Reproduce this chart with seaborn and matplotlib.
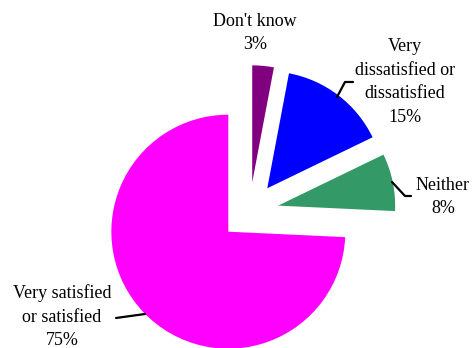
import matplotlib
matplotlib.use("Agg")
import matplotlib.pyplot as plt
import seaborn as sns
from matplotlib.lines import Line2D

categories = ["Don't know", "Very\ndissatisfied or\ndissatisfied", "Neither", "Very satisfied\nor satisfied"]
values = [3, 15, 8, 75]
colors = ["#800080", "#0000FF", "#339966", "#FF00FF"]

sns.set_theme(style="white")
plt.rcParams['font.family'] = ['Liberation Serif', 'DejaVu Serif']

W, H = 472, 348
fig = plt.figure(figsize=(W / 100, H / 100), dpi=100)
ax = fig.add_axes([0, 0, 1, 1])

R = 117.0
cx, cy = 249.5, 211.5
ax.pie(values, colors=sns.color_palette(colors), startangle=90, counterclock=False,
       explode=[0.25] * len(values), radius=1.0,
       wedgeprops=dict(linewidth=0))
ax.set_xlim(-cx / R, (W - cx) / R)
ax.set_ylim(-(H - cy) / R, cy / R)
ax.set_aspect('auto')
ax.axis('off')

def ff(x, y):
    return x / W, 1 - y / H

label_pos = [(255, 33), (405, 82), (443, 197), (62, 317)]
for cat, v, (lx, ly) in zip(categories, values, label_pos):
    fx, fy = ff(lx, ly)
    fig.text(fx, fy, f"{cat}\n{v}%", ha='center', va='center', fontsize=13,
             linespacing=1.5, color='black')

leaders = [
    [(337, 97), (345, 82), (353, 82)],
    [(392, 182), (405, 196), (411, 196)],
    [(116, 318), (145, 314)],
]
for pts in leaders:
    xs = [ff(x, y)[0] for x, y in pts]
    ys = [ff(x, y)[1] for x, y in pts]
    fig.add_artist(Line2D(xs, ys, transform=fig.transFigure, color='black', linewidth=1.6))

fig.savefig("out.png", dpi=100)
